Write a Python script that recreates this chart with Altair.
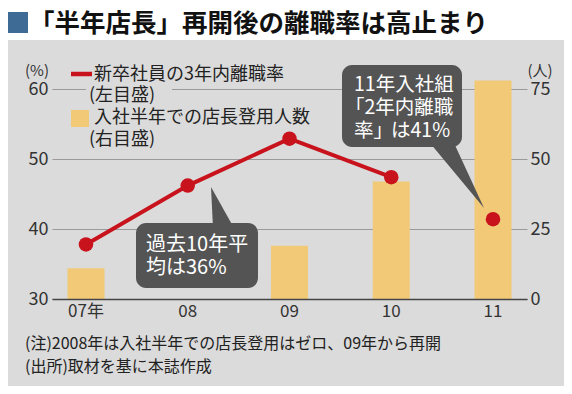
import altair as alt
import pandas as pd

# ---------------- data ----------------
years = ["07年", "08", "09", "10", "11"]
rate = [37.8, 46.2, 52.9, 47.4, 41.4]          # 新卒社員の3年内離職率 (11 = 2年内)
on_line = [True, True, True, True, False]
managers = [11, 0, 19, 42, 78]                 # 入社半年での店長登用人数

title_text = "「半年店長」再開後の離職率は高止まり"
legend_line = ["新卒社員の3年内離職率", "(左目盛)"]
legend_bar = ["入社半年での店長登用人数", "(右目盛)"]
callout1 = ["過去10年平", "均は36%"]
callout2 = ["11年入社組", "「2年内離職", "率」", "は41%"]
notes = ["(注)2008年は入社半年での店長登用はゼロ、09年から再開", "(出所)取材を基に本誌作成"]

FONT = "Noto Sans CJK JP"
W, H = 475, 210
PL, PT, PR, PB = 44, 81, 37, 87
BG = "#dbdbdb"
BAR = "#f2ca77"
RED = "#c8121c"
BOX = "#545454"


def px(x):
    return x - 52


def py(y):
    return y - 89


df = pd.DataFrame({"year": years, "rate": rate, "line": on_line, "managers": managers})
one = pd.DataFrame({"a": [0]})

xenc = alt.X("year:N", sort=years,
             scale=alt.Scale(paddingInner=0.636, paddingOuter=0.152),
             axis=alt.Axis(title=None, labelAngle=0, ticks=False, labelFontSize=17,
                           labelPadding=4, domainColor="#444", domainWidth=1.5, zindex=1))


def rect(x1, x2, y1, y2, color, radius=0):
    kw = dict(color=color)
    if radius:
        kw["cornerRadius"] = radius
    return alt.Chart(one).mark_rect(**kw).encode(
        x=alt.value(px(x1)), x2=alt.value(px(x2)), y=alt.value(py(y1)), y2=alt.value(py(y2)))


def text(x, y, s, size=18, color="#222", weight="normal", align="left"):
    return alt.Chart(one).mark_text(text=s, font=FONT, fontSize=size, color=color,
                                    fontWeight=weight, align=align, baseline="middle").encode(
        x=alt.value(px(x)), y=alt.value(py(y)))


def tri(pts, color):
    xs = [p[0] for p in pts]
    ys = [p[1] for p in pts]
    cx = (min(xs) + max(xs)) / 2
    cy = (min(ys) + max(ys)) / 2
    r = max(max(xs) - min(xs), max(ys) - min(ys)) / 2
    path = "M" + "L".join(f"{(x - cx) / r:.4f},{(y - cy) / r:.4f}" for x, y in pts) + "Z"
    return alt.Chart(one).mark_point(shape=path, size=(2 * r) ** 2, filled=True, fill=color,
                                     opacity=1, strokeWidth=0).encode(
        x=alt.value(px(cx)), y=alt.value(py(cy)))


# ---------------- decoration ----------------
white_band = rect(0, 572, 0, 40, "white")
square = rect(8, 28, 12, 33, "#3e6a96")
title = text(29, 24, title_text, size=25.5, color="#111", weight="bold")

# ---------------- data layers ----------------
bars = alt.Chart(df).mark_bar(color=BAR).encode(
    x=xenc,
    y=alt.Y("managers:Q", scale=alt.Scale(domain=[0, 75]),
            axis=alt.Axis(orient="right", values=[0, 25, 50, 75], title=None, grid=False,
                          ticks=False, domain=False, labelPadding=3, labelFontSize=18)),
)

yleft = alt.Y("rate:Q", scale=alt.Scale(domain=[30, 60]),
              axis=alt.Axis(values=[30, 40, 50, 60], title=None, grid=True, gridColor="#9a9a9a",
                            gridWidth=1, ticks=False, domain=False, labelPadding=4,
                            labelFontSize=18))

legend_bg = rect(86, 172, 83, 104, BG)

line = alt.Chart(df).transform_filter("datum.line").mark_line(color=RED, strokeWidth=4).encode(
    x=xenc, y=yleft)
dots = alt.Chart(df).mark_point(filled=True, size=210, color=RED, opacity=1).encode(
    x=xenc, y=yleft)
left_group = alt.layer(legend_bg, line, dots)

# ---------------- legend & unit labels ----------------
leg_line = alt.Chart(one).mark_rule(color=RED, strokeWidth=4.5).encode(
    x=alt.value(px(71)), x2=alt.value(px(92)), y=alt.value(py(74)))
leg_t1 = text(94, 75, legend_line[0])
leg_t2 = text(89, 96, legend_line[1])
leg_sq = rect(71, 89, 110, 127, BAR)
leg_t3 = text(94, 118, legend_bar[0])
leg_t4 = text(89, 140, legend_bar[1])
unit_l = text(37, 71, "(%)", size=15, color="#333", align="center")
unit_r = text(540, 71, "(人)", size=15, color="#333", align="center")

# ---------------- callouts ----------------
c1_tri = tri([(211, 187), (213, 228), (234, 228)], BOX)
c1_box = rect(136, 258, 223, 288, BOX, radius=10)
c1_t1 = text(146, 245, callout1[0], size=20, color="white")
c1_t2 = text(146, 268, callout1[1], size=20, color="white")

c2_tri = tri([(430, 143), (454, 143), (484, 208)], BOX)
c2_box = rect(342, 462, 65, 147, BOX, radius=10)
c2_t1 = text(354, 85, callout2[0], size=19.5, color="white")
c2_t2 = text(345, 108, callout2[1], size=19.5, color="white")
c2_t3 = text(354, 131, callout2[2], size=19.5, color="white")
c2_t4 = text(391, 131, callout2[3], size=19.5, color="white")

# ---------------- notes ----------------
n1 = text(25, 344, notes[0], size=16)
n2 = text(25, 367, notes[1], size=16)

chart = alt.layer(
    white_band, square, title,
    bars, left_group,
    leg_line, leg_t1, leg_t2, leg_sq, leg_t3, leg_t4, unit_l, unit_r,
    c1_tri, c1_box, c1_t1, c1_t2,
    c2_tri, c2_box, c2_t1, c2_t2, c2_t3, c2_t4,
    n1, n2,
).resolve_scale(y="independent").properties(
    width=W, height=H,
    autosize=alt.AutoSizeParams(type="none"),
    padding={"left": PL, "top": PT, "right": PR, "bottom": PB},
    background=BG,
).configure_view(strokeWidth=0).configure_axis(
    labelFont=FONT, labelColor="#333"
)

chart.save("out.html", embed_options={"renderer": "svg", "actions": False})
